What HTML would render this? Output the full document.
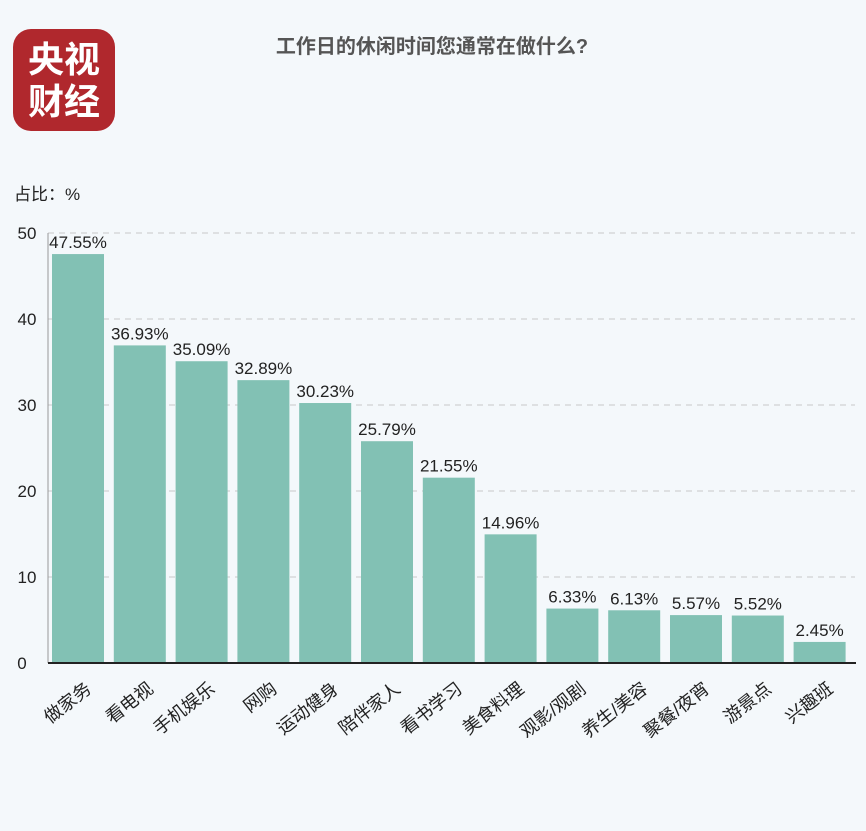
<!DOCTYPE html>
<html><head><meta charset="utf-8"><style>
body{margin:0;background:#f4f8fb;}
svg{display:block;font-family:"Liberation Sans","Noto Sans CJK SC",sans-serif;}
</style></head><body>
<svg width="866" height="831" viewBox="0 0 866 831">
<rect width="866" height="831" fill="#f4f8fb"/>
<rect x="13" y="29" width="102" height="102" rx="18" fill="#b0282d"/>
<text x="64" y="72" text-anchor="middle" font-size="36" font-weight="bold" fill="#fff" font-family="Noto Sans CJK SC,sans-serif">央视</text>
<text x="64" y="114" text-anchor="middle" font-size="36" font-weight="bold" fill="#fff" font-family="Noto Sans CJK SC,sans-serif">财经</text>
<text x="432" y="53" text-anchor="middle" font-size="20" font-weight="bold" fill="#555">工作日的休闲时间您通常在做什么?</text>
<text x="14" y="200" font-size="17" fill="#222">占比：%</text>
<g stroke="#c8c8c8" stroke-dasharray="6,5" stroke-width="1">
<line x1="48" x2="855" y1="233" y2="233"/><line x1="48" x2="855" y1="319" y2="319"/><line x1="48" x2="855" y1="405" y2="405"/><line x1="48" x2="855" y1="491" y2="491"/><line x1="48" x2="855" y1="577" y2="577"/>
</g>
<g font-size="17" fill="#222" text-anchor="middle">
<text x="27" y="239">50</text><text x="27" y="325">40</text><text x="27" y="411">30</text><text x="27" y="497">20</text><text x="27" y="583">10</text><text x="22" y="669">0</text>
</g>
<line x1="48" x2="48" y1="233" y2="663" stroke="#999"/>
<g fill="#82c1b4" id="bars"></g>
<line x1="48" x2="856" y1="663" y2="663" stroke="#222" stroke-width="2"/>
<g id="vals" font-size="17" fill="#222" text-anchor="middle"></g>
<g id="labs" font-size="18" fill="#222" text-anchor="end"></g>
</svg>
<script>
var v=[47.55,36.93,35.09,32.89,30.23,25.79,21.55,14.96,6.33,6.13,5.57,5.52,2.45];
var n=["做家务","看电视","手机娱乐","网购","运动健身","陪伴家人","看书学习","美食料理","观影/观剧","养生/美容","聚餐/夜宵","游景点","兴趣班"];
var ns="http://www.w3.org/2000/svg",b=document.getElementById("bars"),vs=document.getElementById("vals"),ls=document.getElementById("labs");
for(var i=0;i<13;i++){var cx=78+i*61.8,h=v[i]*8.6,y=663-h;
var r=document.createElementNS(ns,"rect");r.setAttribute("x",cx-26);r.setAttribute("y",y);r.setAttribute("width",52);r.setAttribute("height",h);b.appendChild(r);
var t=document.createElementNS(ns,"text");t.setAttribute("x",cx);t.setAttribute("y",y-6);t.textContent=v[i].toFixed(2)+"%";vs.appendChild(t);
var l=document.createElementNS(ns,"text");l.setAttribute("transform","translate("+(cx+6)+",680) rotate(-38)");l.setAttribute("y",14);l.textContent=n[i];ls.appendChild(l);}
</script>
</body></html>
